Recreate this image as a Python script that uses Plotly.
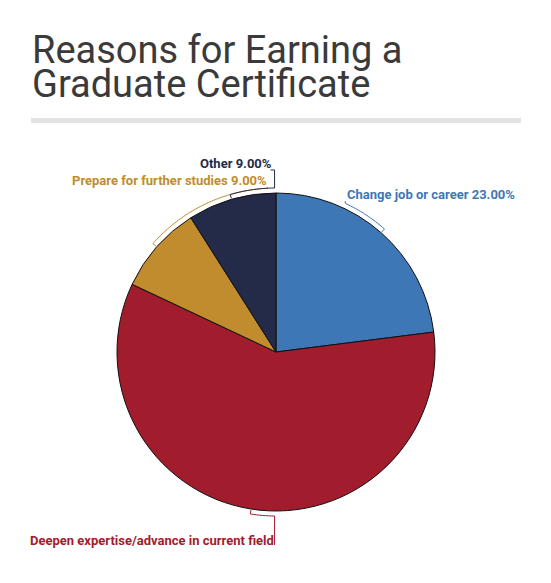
import math
import plotly.graph_objects as go

# the page puts the figure 8px in from the top-left corner
OFF = 8
W, H = 551 - 2 * OFF, 583 - 2 * OFF

labels = ["Change job or career", "Deepen expertise/advance in current field",
          "Prepare for further studies", "Other"]
values = [23, 59, 9, 9]
colors = ["#3e77b6", "#a11c2d", "#c08c2e", "#232b48"]
show_pct = [True, False, True, True]

# pie geometry in page pixels
cx, cy, r = 276, 352, 159
rb = 164  # radius of the bracket arcs

# where each label goes (page pixels) and the angle the bracket ends at
lab_pos = [(345, 194, "left"), (276, 540, "right"), (269, 180, "right"), (274, 163, "right")]
end_ang = [25, 180.5, 357, 359.5]


def px(x, y):
    return (x - OFF) / W, 1 - (y - OFF) / H


def pt(ang, rad):
    a = math.radians(ang)
    return cx + rad * math.sin(a), cy - rad * math.cos(a)


fig = go.Figure()
x0, y1 = px(cx - r, cy - r)
x1, y0 = px(cx + r, cy + r)
fig.add_trace(go.Pie(
    labels=labels, values=values, sort=False, direction="clockwise", rotation=0,
    marker=dict(colors=colors, line=dict(color="#111111", width=1)),
    textinfo="none", hoverinfo="label+percent", showlegend=False,
    domain=dict(x=[x0, x1], y=[y0, y1]),
))

shapes = []
annotations = []
total = sum(values)
start = 0
for i, v in enumerate(values):
    mid = (start + v / 2) / total * 360
    start += v
    # arc from slice middle to the label side
    a0, a1 = mid, end_ang[i]
    n = max(int(abs(a1 - a0)), 2)
    pts = [pt(a0, r + 1)] + [pt(a0 + (a1 - a0) * k / n, rb) for k in range(n + 1)]
    lx, ly, side = lab_pos[i]
    ex, ey = pts[-1]
    if ly > ey:
        pts.append((ex, ly + 5))
    else:
        pts.append((ex, ly + 7))
    if i == 3:
        pts.append((ex - 4, ly + 7))
    path = "M " + " L ".join("%f,%f" % px(x, y) for x, y in pts)
    shapes.append(dict(type="path", xref="paper", yref="paper", path=path,
                       line=dict(color=colors[i], width=1)))
    txt = labels[i]
    if show_pct[i]:
        txt += " %.2f%%" % (v / total * 100)
    ax, ay = px(lx, ly)
    annotations.append(dict(
        text="<b>%s</b>" % txt, xref="paper", yref="paper",
        x=ax, y=ay, xanchor=side, yanchor="middle",
        showarrow=False, font=dict(family="Roboto", size=13, color=colors[i]),
    ))

# title and rule under it
for j, line in enumerate(["Reasons for Earning a", "Graduate Certificate"]):
    tx, ty = px(30, 50 + j * 34)
    annotations.append(dict(
        text=line, xref="paper", yref="paper", x=tx, y=ty,
        xanchor="left", yanchor="middle", showarrow=False,
        font=dict(family="Roboto", size=38, color="#3a3a3a"),
    ))
bx0, by1 = px(31, 118)
bx1, by0 = px(521, 123)
shapes.append(dict(type="rect", xref="paper", yref="paper",
                   x0=bx0, x1=bx1, y0=by0, y1=by1,
                   fillcolor="#e3e3e3", line=dict(width=0)))

fig.update_layout(
    width=W, height=H, margin=dict(l=0, r=0, t=0, b=0),
    paper_bgcolor="white", plot_bgcolor="white",
    shapes=shapes, annotations=annotations,
)
fig.write_html("out.html")
